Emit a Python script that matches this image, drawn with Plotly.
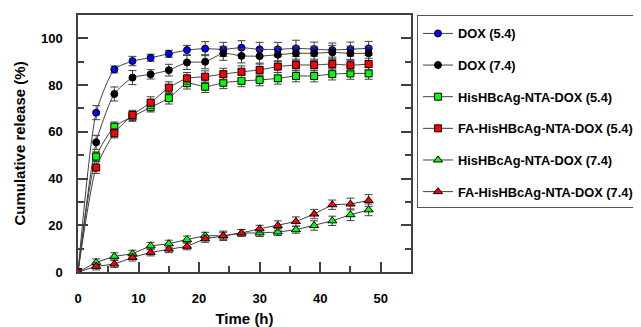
import plotly.graph_objects as go

time_h = [0, 3, 6, 9, 12, 15, 18, 21, 24, 27, 30, 33, 36, 39, 42, 45, 48]

dox_54 = [0, 68.2, 86.7, 90.3, 91.7, 93.4, 95.0, 95.6, 95.3, 96.0, 95.3, 95.3, 95.7, 95.4, 95.0, 95.4, 95.7]
dox_74 = [0, 55.5, 76.2, 83.2, 84.6, 86.4, 89.7, 90.0, 93.6, 92.5, 92.4, 93.0, 93.6, 93.6, 94.0, 93.6, 93.6]
his_54 = [0, 49.4, 62.2, 66.5, 70.5, 74.4, 80.8, 79.3, 81.0, 81.8, 82.2, 82.9, 83.9, 83.9, 84.7, 85.0, 85.0]
fa_54 = [0, 44.7, 59.4, 67.2, 72.5, 78.9, 82.9, 83.6, 84.7, 85.7, 86.5, 87.9, 88.6, 88.6, 89.0, 88.5, 89.0]
his_74 = [0, 4.1, 6.7, 7.8, 11.2, 12.1, 13.9, 15.5, 15.5, 16.7, 16.7, 17.1, 18.1, 19.9, 21.9, 24.5, 26.6]
fa_74 = [0, 2.4, 3.4, 6.2, 8.4, 9.8, 11.0, 14.2, 15.5, 16.7, 18.5, 19.9, 21.6, 24.8, 28.8, 29.1, 30.6]

err_dox_54 = [0, 3.0, 1.5, 2.0, 1.5, 1.5, 2.0, 3.0, 3.0, 3.0, 3.0, 3.0, 3.5, 3.0, 3.0, 3.0, 3.0]
err_dox_74 = [0, 3.0, 3.0, 3.0, 2.0, 2.5, 3.0, 3.0, 3.0, 3.0, 3.0, 3.0, 3.0, 3.0, 3.0, 3.0, 3.0]
err_his_54 = [0, 2.0, 2.0, 2.0, 2.0, 2.5, 2.5, 2.5, 2.5, 2.5, 2.5, 2.5, 2.5, 2.5, 2.5, 2.5, 2.5]
err_fa_54 = [0, 2.5, 2.0, 2.0, 2.5, 2.5, 2.5, 2.5, 2.5, 2.5, 2.5, 2.5, 2.5, 2.5, 2.5, 2.5, 2.5]
err_his_74 = [0, 1.5, 1.5, 1.5, 1.5, 1.5, 1.5, 1.5, 1.5, 1.5, 1.5, 1.5, 1.5, 2.0, 2.0, 2.5, 2.5]
err_fa_74 = [0, 1.5, 1.5, 1.5, 1.5, 1.5, 1.5, 1.5, 2.0, 1.5, 1.5, 2.0, 2.0, 2.0, 2.0, 2.5, 2.5]

series_names = ["DOX (5.4)", "DOX (7.4)", "HisHBcAg-NTA-DOX (5.4)",
                "FA-HisHBcAg-NTA-DOX (5.4)", "HisHBcAg-NTA-DOX (7.4)", "FA-HisHBcAg-NTA-DOX (7.4)"]
series_values = [dox_54, dox_74, his_54, fa_54, his_74, fa_74]
series_errors = [err_dox_54, err_dox_74, err_his_54, err_fa_54, err_his_74, err_fa_74]
series_colors = ["#0000ff", "#000000", "#00ff00", "#ff0000", "#00ff00", "#ff0000"]
series_symbols = ["circle", "circle", "square", "square", "triangle-up", "triangle-up"]
series_sizes = [7, 7, 7, 7, 8, 8]
series_shapes = ["spline", "spline", "spline", "spline", "linear", "linear"]

FONT = "Arial, 'Liberation Sans', sans-serif"

fig = go.Figure()
for i, name in enumerate(series_names):
    fig.add_trace(go.Scatter(
        x=time_h, y=series_values[i], name=name, mode="lines+markers",
        legendgroup=f"g{i}",
        line=dict(color="#404040", width=1, shape=series_shapes[i], smoothing=0.6),
        marker=dict(symbol=series_symbols[i], size=series_sizes[i], color=series_colors[i],
                    line=dict(color="#000000", width=1)),
        error_y=dict(type="data", array=series_errors[i], visible=True,
                     color="#404040", thickness=1, width=4),
    ))

axis_common = dict(
    showline=True, linecolor="#404040", linewidth=1.5,
    ticks="inside", ticklen=10, tickwidth=1.5, tickcolor="#404040",
    showgrid=False, zeroline=False, automargin=False,
    tickfont=dict(family=FONT, size=13, color="#000", weight="bold"),
)

# the page body adds an 8px offset, so the figure is 8px smaller than the window
fig.update_layout(
    width=633, height=319,
    margin=dict(l=70, r=230, t=7, b=55, autoexpand=False),
    paper_bgcolor="white", plot_bgcolor="white",
    showlegend=True,
    legend=dict(
        x=1.018, y=1.0, xanchor="left", yanchor="top",
        bgcolor="white", bordercolor="#555", borderwidth=1,
        font=dict(family=FONT, size=12.8, color="#000", weight="bold"),
        title=dict(text=" ", font=dict(family=FONT, size=2)),
        tracegroupgap=12, itemwidth=30,
    ),
    xaxis=dict(
        range=[0, 55], dtick=10, tick0=0, mirror=True,
        minor=dict(dtick=5, ticks="inside", ticklen=6, tickcolor="#404040", tickwidth=1.5),
        ticklabelstandoff=14,
        title=dict(text="Time (h)", font=dict(family=FONT, size=15, color="#000", weight="bold"),
                   standoff=9),
        **axis_common,
    ),
    yaxis=dict(
        range=[0, 110], dtick=20, tick0=0, mirror="ticks",
        minor=dict(dtick=10, ticks="inside", ticklen=6, tickcolor="#404040", tickwidth=1.5),
        ticklabelstandoff=11,
        title=dict(text="Cumulative release (%)", font=dict(family=FONT, size=15, color="#000", weight="bold"),
                   standoff=12),
        **axis_common,
    ),
)

fig.write_html("out.html")
